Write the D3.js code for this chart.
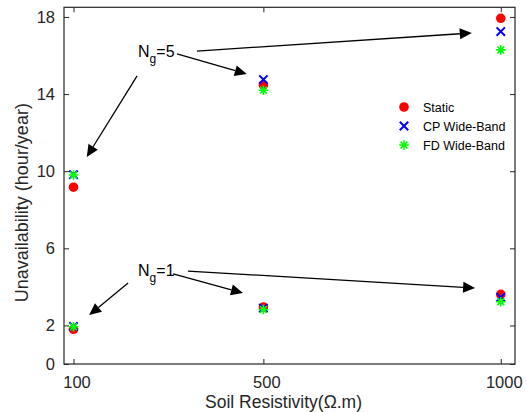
<!DOCTYPE html>
<html>
<head>
<meta charset="utf-8">
<script src="https://cdn.jsdelivr.net/npm/d3@7"></script>
<style>
  html, body { margin: 0; padding: 0; background: #fff; }
  svg { display: block; font-family: "Liberation Sans", Arial, Helvetica, sans-serif; }
</style>
</head>
<body>
<svg id="chart" width="527" height="412"></svg>
<script>
// Soil resistivity (Ω.m) on the x axis
const resistivity = [100, 500, 1000];

// Unavailability (hour/year) for Ng = 5
const static5 = [9.17, 14.47, 17.93];
const cp5     = [9.82, 14.75, 17.24];
const fd5     = [9.80, 14.20, 16.29];

// Unavailability (hour/year) for Ng = 1
const static1 = [1.80, 2.95, 3.61];
const cp1     = [1.95, 2.90, 3.46];
const fd1     = [1.93, 2.83, 3.23];

const xTicks = [100, 500, 1000];
const yTicks = [0, 2, 6, 10, 14, 18];

const seriesNames = ["Static", "CP Wide-Band", "FD Wide-Band"];

// Annotation arrows, in data units: [x0, y0, x1, y1]
const arrows5 = [[360, 16.23, 939, 17.17], [318, 16.08, 465, 15.04], [234, 14.94, 128, 10.74]];
const arrows1 = [[341, 4.82, 946, 3.94], [310, 4.67, 457, 3.68], [215, 4.20, 133, 2.54]];
const labels = [{ g: "5", x: 236, y: 15.92 }, { g: "1", x: 236, y: 4.56 }];

const ink = "#262626";
const svg = d3.select("#chart");
const L = 64, R = 515, T = 7.3, B = 364;

const x = d3.scaleLinear().domain([80, 1030]).range([L, R]);
const y = d3.scaleLinear().domain([0, 18.5]).range([B, T]);

// Axes with inward ticks on all four sides
const tk = 5;
const gx = svg.append("g").attr("transform", `translate(0,${B})`)
  .call(d3.axisBottom(x).tickValues(xTicks).tickFormat(d3.format("d"))
    .tickSizeInner(-tk).tickSizeOuter(0).tickPadding(12));
const gxt = svg.append("g").attr("transform", `translate(0,${T})`)
  .call(d3.axisTop(x).tickValues(xTicks).tickSizeInner(-tk).tickSizeOuter(0).tickFormat(""));
const gy = svg.append("g").attr("transform", `translate(${L},0)`)
  .call(d3.axisLeft(y).tickValues(yTicks).tickFormat(d3.format("d"))
    .tickSizeInner(-tk).tickSizeOuter(0).tickPadding(8));
const gyr = svg.append("g").attr("transform", `translate(${R},0)`)
  .call(d3.axisRight(y).tickValues(yTicks).tickSizeInner(-tk).tickSizeOuter(0).tickFormat(""));

[gx, gxt, gy, gyr].forEach(g => {
  g.select(".domain").remove();
  g.selectAll("line").attr("stroke", ink).attr("stroke-width", 1);
  g.selectAll("text").attr("fill", ink).attr("font-size", 16.5)
    .attr("font-family", '"Liberation Sans", Arial, sans-serif');
});
gy.selectAll("text").attr("dx", "-1");
gx.selectAll("text").attr("dx", "3");

svg.append("rect")
  .attr("x", L).attr("y", T).attr("width", R - L).attr("height", B - T)
  .attr("fill", "none").attr("stroke", ink).attr("stroke-width", 1.2);

// Axis titles
svg.append("text")
  .attr("x", (L + R) / 2 - 6).attr("y", 408)
  .attr("text-anchor", "middle").attr("font-size", 17.5).attr("fill", ink)
  .text("Soil Resistivity(Ω.m)");
svg.append("text")
  .attr("transform", `translate(28,${(T + B) / 2 + 17}) rotate(-90)`)
  .attr("text-anchor", "middle").attr("font-size", 18).attr("fill", ink)
  .text("Unavailability (hour/year)");

// Marker drawers
function drawCircle(g, cx, cy) {
  g.append("circle").attr("cx", cx).attr("cy", cy).attr("r", 4.8).attr("fill", "#ff0000");
}
function drawCross(g, cx, cy) {
  const s = 4.2;
  g.append("path")
    .attr("d", `M${cx - s},${cy - s}L${cx + s},${cy + s}M${cx - s},${cy + s}L${cx + s},${cy - s}`)
    .attr("stroke", "#0000ff").attr("stroke-width", 2).attr("fill", "none");
}
function drawStar(g, cx, cy) {
  const s = 4.8, d = 3.4;
  g.append("path")
    .attr("d", `M${cx - s},${cy}L${cx + s},${cy}M${cx},${cy - s}L${cx},${cy + s}` +
      `M${cx - d},${cy - d}L${cx + d},${cy + d}M${cx - d},${cy + d}L${cx + d},${cy - d}`)
    .attr("stroke", "#00ff00").attr("stroke-width", 1.6).attr("fill", "none");
}

// Static first, then CP, then FD on top
const plot = svg.append("g");
[[static5, static1, drawCircle], [cp5, cp1, drawCross], [fd5, fd1, drawStar]].forEach(([a, b, fn]) => {
  resistivity.forEach((r, i) => fn(plot, x(r), y(a[i])));
  resistivity.forEach((r, i) => fn(plot, x(r), y(b[i])));
});

// Annotation arrows
function arrow(g, a) {
  const x0 = x(a[0]), y0 = y(a[1]), x1 = x(a[2]), y1 = y(a[3]);
  const ang = Math.atan2(y1 - y0, x1 - x0);
  const hl = 12, hw = 5.5;
  const bx = x1 - hl * Math.cos(ang), by = y1 - hl * Math.sin(ang);
  g.append("line").attr("x1", x0).attr("y1", y0).attr("x2", bx).attr("y2", by)
    .attr("stroke", "#000").attr("stroke-width", 1.3);
  const px = -Math.sin(ang) * hw, py = Math.cos(ang) * hw;
  g.append("path")
    .attr("d", `M${x1},${y1}L${bx + px},${by + py}L${bx - px},${by - py}Z`)
    .attr("fill", "#000");
}
const ann = svg.append("g");
arrows5.concat(arrows1).forEach(a => arrow(ann, a));

labels.forEach(l => {
  const t = ann.append("text").attr("x", x(l.x)).attr("y", y(l.y))
    .attr("font-size", 16).attr("fill", "#000");
  t.append("tspan").text("N");
  t.append("tspan").attr("dy", 6).attr("font-size", 12).text("g");
  t.append("tspan").attr("dy", -6).text("=" + l.g);
});

// Legend
const legend = svg.append("g");
const lx = 404, ly0 = 107, ldy = 19;
[drawCircle, drawCross, drawStar].forEach((fn, i) => {
  fn(legend, lx, ly0 + i * ldy);
  legend.append("text").attr("x", 423).attr("y", ly0 + i * ldy + 4.5)
    .attr("font-size", 12.5).attr("fill", "#000").text(seriesNames[i]);
});
</script>
</body>
</html>
